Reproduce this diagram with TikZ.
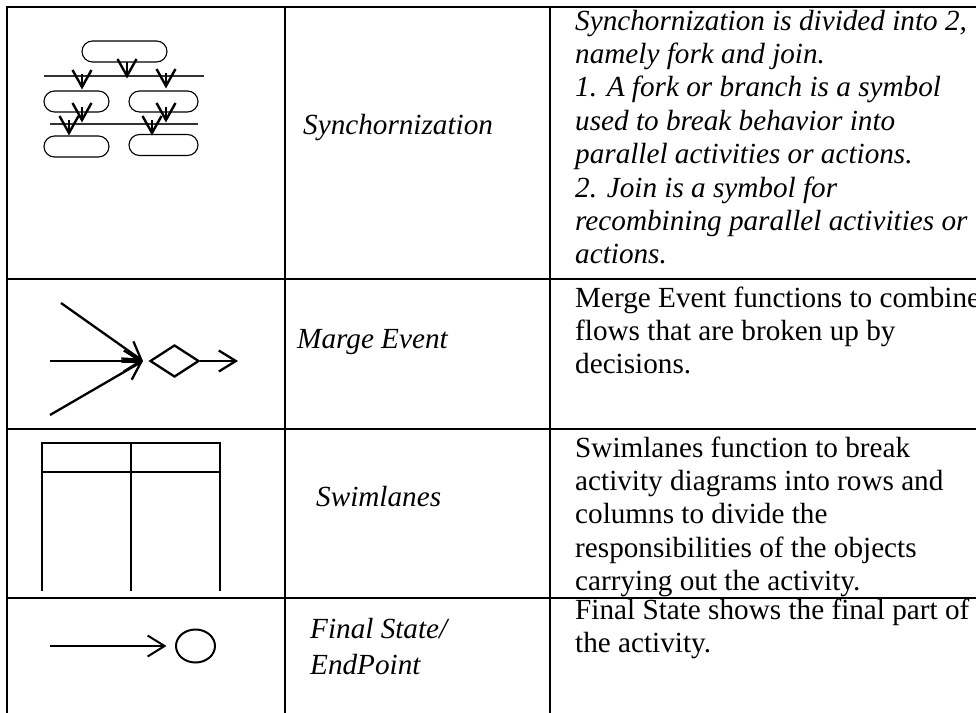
\documentclass[tikz,border=0pt]{standalone}
\usepackage{fontspec}
\setmainfont{Liberation Serif}
\usetikzlibrary{arrows.meta,shapes.geometric,calc}

% open V mark with a short stem, tip at (#1,#2)
\newcommand\syncvee[2]{%
  \draw[vee] (#1-9.5,#2-17) -- (#1,#2) -- (#1+9.5,#2-17);
  \draw[vee] (#1,#2-13) -- (#1,#2);}

\begin{document}
\begin{tikzpicture}[x=1pt,y=-1pt,
  grid/.style={line width=2pt},
  desc/.style={inner sep=0pt, anchor=base west, font=\fontsize{29.2}{33.4}\selectfont},
  descit/.style={desc, font=\fontsize{29.2}{33.4}\selectfont\itshape},
  namecell/.style={inner sep=0pt, anchor=base west, align=left, font=\fontsize{29.2}{36}\selectfont\itshape},
  stadium/.style={draw, line width=1.1pt, rounded corners=10.5pt, minimum height=21pt, inner sep=0pt},
  bar/.style={draw=black!80, line width=1.6pt},
  vee/.style={line width=2.4pt},
  flow/.style={line width=2.3pt, -{Straight Barb[length=17pt,width=21pt]}},
  lane/.style={line width=2.5pt},
]
\useasboundingbox (0,0) rectangle (976,712);
\fill[white] (0,0) rectangle (976,712);
\clip (0,0) rectangle (976,712);

% ---------- table rules ----------
\draw[grid] (6,7) -- (990,7);
\draw[grid] (6,279) -- (990,279);
\draw[grid] (6,429) -- (990,429);
\draw[grid] (6,598) -- (990,598);
\draw[grid] (7,6) -- (7,720);
\draw[grid] (285,6) -- (285,720);
\draw[grid] (550,6) -- (550,720);

% ---------- synchronization symbol ----------
\node[stadium, minimum width=85pt] (top) at (124.5,51.5) {};
\node[stadium, minimum width=65pt] (ml) at (76.5,101.5) {};
\node[stadium, minimum width=69pt] (mr) at (163.5,101.5) {};
\node[stadium, minimum width=65pt] (bl) at (76.5,146.5) {};
\node[stadium, minimum width=69pt] (br) at (163.5,145) {};
\coordinate (forkL) at (44,76);
\coordinate (forkR) at (204,76);
\coordinate (joinL) at (50,124);
\coordinate (joinR) at (198,124);
\draw[bar] (forkL) -- (forkR);
\draw[bar] (joinL) -- (joinR);
\draw[vee] (127,62) -- (127,76);
\syncvee{127}{76}
\syncvee{82}{87}
\syncvee{166}{86}
\syncvee{82}{120}
\syncvee{69}{133}
\syncvee{166}{120}
\syncvee{152}{133}

% ---------- merge symbol ----------
\node[diamond, draw, line width=2.3pt, minimum width=49pt, minimum height=32pt, inner sep=0pt] (dia) at (174.5,361) {};
\coordinate (inA) at (61,303);
\coordinate (inB) at (50,361);
\coordinate (inC) at (50,415);
\coordinate (meet) at (143,361);
\coordinate (outE) at (238,361);
\draw[flow] (inA) -- (meet);
\draw[flow] (inB) -- (meet);
\draw[flow] (inC) -- (meet);
\draw[flow] (dia.east) -- (outE);

% ---------- swimlanes symbol ----------
\draw[lane] (42,591) -- (42,443) -- (220,443) -- (220,591);
\draw[lane] (42,472) -- (220,472);
\draw[lane] (131,443) -- (131,591);

% ---------- final state symbol ----------
\node[ellipse, draw, line width=2pt, minimum width=39pt, minimum height=33pt, inner sep=0pt] (endc) at (195.5,646) {};
\coordinate (fsIn) at (50,646);
\draw[flow, line width=2pt, shorten >=8.5pt] (fsIn) -- (endc.west);

% ---------- names ----------
\node[namecell] (n1) at (303,134) {Synchornization};
\node[namecell] (n2) at (297,348) {Marge Event};
\node[namecell] (n3) at (316,506) {Swimlanes};
\node[namecell, anchor=north west] (n4) at (310,618) {Final State/\\EndPoint};

% ---------- descriptions ----------
\node[descit] (d1) at (575,30) {\parbox[t]{600pt}{%
Synchornization is divided into 2,\\
namely fork and join.\\
1. A fork or branch is a symbol\\
used to break behavior into\\
parallel activities or actions.\\
2. Join is a symbol for\\
recombining parallel activities or\\
actions.}};
\node[desc] (d2) at (575,307) {\parbox[t]{600pt}{%
Merge Event functions to combine\\
flows that are broken up by\\
decisions.}};
\node[desc] (d3) at (575,457) {\parbox[t]{600pt}{%
Swimlanes function to break\\
activity diagrams into rows and\\
columns to divide the\\
responsibilities of the objects\\
carrying out the activity.}};
\node[desc] (d4) at (575,619) {\parbox[t]{600pt}{%
Final State shows the final part of\\
the activity.}};
\end{tikzpicture}
\end{document}
